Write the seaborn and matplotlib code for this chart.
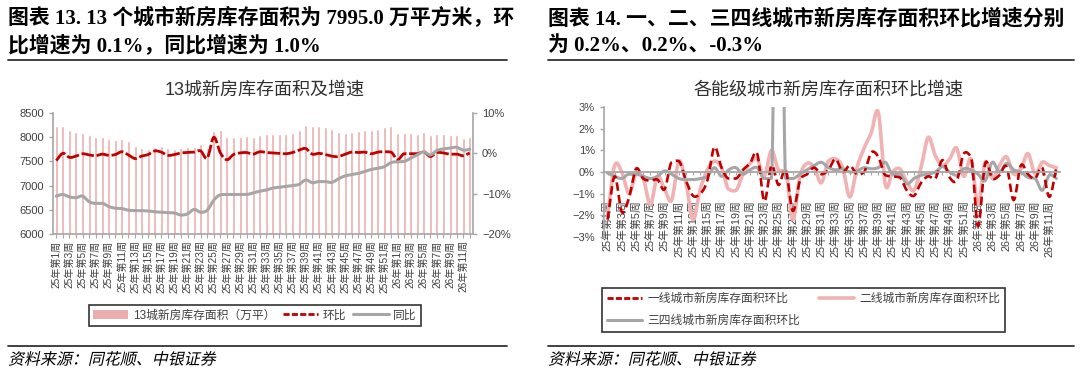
import numpy as np
import pandas as pd
import matplotlib
matplotlib.use("Agg")
import matplotlib.pyplot as plt
import seaborn as sns
from matplotlib.patches import Patch
from matplotlib.lines import Line2D
from matplotlib.patheffects import AbstractPathEffect
from matplotlib.transforms import Affine2D

# ---------------- data ----------------
weeks = [f"25年第{i}周" for i in range(1, 53)] + [f"26年第{i}周" for i in range(1, 13)]

inventory = [8238, 8232, 8155, 8100, 8087, 8052, 8004, 7997, 7955, 7934,
             7969, 7928, 7824, 7777, 7756, 7804, 7824, 7783, 7762, 7770,
             7790, 7804, 7860, 7770, 8134, 8141, 8010, 7997, 8004, 8025,
             8010, 8045, 8066, 8073, 8073, 8066, 8087, 8155, 8258, 8238,
             8238, 8217, 8162, 8100, 8087, 8114, 8128, 8155, 8148, 8169,
             8203, 8224, 8093, 8087, 8080, 8073, 8107, 8045, 8059, 8066,
             8052, 8038, 7987, 7995]

mom_13 = [-1.8, 0.0, -1.0, -0.7, -0.1, -0.4, -0.6, -0.2, -0.5, -0.3,
          0.4, -0.4, -1.3, -0.7, -0.3, 0.6, 0.3, -0.5, -0.3, 0.1,
          0.2, 0.3, 0.6, -1.2, 4.0, 0.1, -1.6, -0.3, 0.1, 0.2,
          -0.2, 0.4, 0.2, 0.1, 0.0, -0.1, 0.2, 0.8, 1.2, -0.2,
          0.0, -0.3, -0.7, -0.8, -0.2, 0.3, 0.2, 0.3, -0.1, 0.3,
          0.4, 0.3, -1.6, -0.1, -0.1, -0.1, 0.4, -0.8, 0.2, 0.1,
          -0.2, -0.2, -0.6, 0.1]

yoy_13 = [-10.6, -10.2, -10.8, -11.0, -10.6, -12.0, -12.4, -12.4, -13.2, -13.6,
          -13.7, -14.1, -14.2, -14.2, -14.3, -14.5, -14.6, -14.7, -14.8, -15.3,
          -15.0, -13.9, -14.6, -14.1, -11.6, -10.3, -10.2, -10.2, -10.2, -10.2,
          -9.8, -9.4, -9.1, -8.6, -8.4, -8.2, -8.0, -7.7, -6.6, -7.3,
          -7.0, -7.0, -7.2, -6.3, -5.6, -5.3, -5.0, -4.5, -4.0, -3.7,
          -3.3, -2.3, -2.1, -2.0, -1.2, -0.4, 0.4, -0.4, 0.7, 1.1,
          1.3, 1.5, 0.8, 1.0]

tier1 = [-2.2, -0.2, -1.85, -1.2, 0.15, -0.3, -0.4, -0.35, -0.8, 0.45,
         0.5, -0.4, -1.1, -1.0, -0.4, 1.15, 0.2, -0.3, -0.3, 0.1,
         0.4, 0.85, -1.35, 0.3, -0.6, 0.1, -1.8, -0.4, -0.1, 0.2,
         -0.1, 0.1, 0.6, 0.0, 0.3, -0.1, 0.0, 0.9, 0.7, -0.15,
         -0.2, -0.25, -0.85, -1.1, -0.5, -0.2, -0.3, 0.55, -0.25, -0.4,
         0.85, 0.7, -2.5, 0.4, -0.3, -0.15, 0.25, -1.3, 0.3, -0.1,
         -0.3, 0.2, -1.15, 0.2]

tier2 = [-2.0, 0.3, 0.0, -1.0, -0.1, -0.3, -1.5, -0.2, -0.8, -1.3,
         0.5, -0.5, -2.2, -0.8, 0.1, 0.5, 0.2, -0.8, -0.85, -0.1,
         0.4, 0.6, -0.2, 1.0, 0.1, 0.0, -2.2, -0.2, 0.4, 0.2,
         -0.5, 0.5, 0.6, 0.2, -1.15, 0.2, 1.1, 1.8, 2.75, -0.6,
         0.0, 0.15, -0.45, -0.85, 0.2, 1.6, 0.75, 0.3, 0.6, 1.1,
         -0.2, 0.6, -1.5, 0.45, -0.3, 0.3, 0.7, -0.1, 0.15, 0.85,
         -0.1, 0.45, 0.3, 0.2]

tier34 = [-0.05, -0.2, -0.3, -0.1, -0.1, -0.2, -0.3, -0.2, 0.05, -0.1,
          -0.3, -0.35, -0.35, -0.3, -0.2, 0.2, -0.2, 0.1, 0.2, -0.1,
          0.1, 0.2, -0.3, -0.3, 25.0, -0.3, -0.3, -0.1, 0.1, 0.3,
          0.45, 0.2, 0.1, 0.15, 0.0, 0.05, 0.2, 0.15, 0.2, 0.45,
          -0.1, -0.1, -0.55, -0.3, -0.15, -0.1, 0.0, 0.25, 0.0, -0.15,
          0.15, 0.1, -0.1, -0.4, 0.45, 0.0, 0.4, 0.1, 0.0, -0.25,
          -0.3, -0.85, -0.15, -0.3]

left_yticks = [6000, 6500, 7000, 7500, 8000, 8500]
right_yticks = [-20, -10, 0, 10]
tier_yticks = [-3, -2, -1, 0, 1, 2, 3]

# ---------------- style ----------------
sns.set_style("white")
plt.rcParams["font.family"] = ["Liberation Sans", "Noto Sans CJK SC"]

BAR = "#EBAEAE"
RED = "#C00000"
GREY = "#A6A6A6"
PINK = "#F0B2B2"
AX = "#A6A6A6"
TXT = "#404040"

W, H = 1080, 374
fig = plt.figure(figsize=(W / 100, H / 100), dpi=100)


def fx(px):
    return px / W


def fy(py):
    return 1 - py / H


def smooth(y, n=12):
    """Excel-like smoothed line with tangents limited to avoid big overshoot."""
    y = np.asarray(y, float)
    N = len(y)
    d = np.diff(y)
    m = np.empty(N)
    m[0], m[-1] = d[0], d[-1]
    m[1:-1] = (d[:-1] + d[1:]) / 2
    for k in range(1, N - 1):
        lim = 3 * min(abs(d[k - 1]), abs(d[k]))
        m[k] = np.sign(m[k]) * min(abs(m[k]), lim)
    t = np.linspace(0, 1, n, endpoint=False)
    h00 = 2 * t**3 - 3 * t**2 + 1
    h10 = t**3 - 2 * t**2 + t
    h01 = -2 * t**3 + 3 * t**2
    h11 = t**3 - t**2
    xs, ys = [], []
    for k in range(N - 1):
        xs.append(k + t)
        ys.append(h00 * y[k] + h10 * m[k] + h01 * y[k + 1] + h11 * m[k + 1])
    xs.append(np.array([N - 1.0]))
    ys.append(np.array([y[-1]]))
    return np.concatenate(xs), np.concatenate(ys)


class Oblique(AbstractPathEffect):
    def __init__(self, shear=0.22):
        super().__init__()
        self.shear = shear

    def draw_path(self, renderer, gc, tpath, affine, rgbFace=None):
        ty = affine.get_matrix()[1, 2]
        sk = Affine2D().translate(0, -ty).skew(self.shear, 0).translate(0, ty)
        renderer.draw_path(gc, tpath, affine + sk, rgbFace)


idx = np.arange(len(weeks))
tick_labels = [w if i % 2 == 0 else "" for i, w in enumerate(weeks)]

# ---------------- left chart ----------------
ax1 = fig.add_axes([fx(53), fy(234), fx(473) - fx(53), fy(113) - fy(234)])
df_bar = pd.DataFrame({"x": idx, "v": inventory})
sns.barplot(data=df_bar, x="x", y="v", color=BAR, saturation=1, width=0.45,
            errorbar=None, ax=ax1, zorder=1)
ax1.set_ylim(6000, 8500)
ax1.set_xlim(-0.5, len(weeks) - 0.5)
ax1.set_yticks(left_yticks)
ax1.set_yticklabels([str(v) for v in left_yticks])
ax1.set_xticks(idx)
ax1.set_xticklabels(tick_labels, rotation=90, fontsize=7.3, color=TXT)
ax1.set_xlabel("")
ax1.set_ylabel("")
ax1.tick_params(axis="y", labelsize=8, colors=AX, labelcolor=TXT, length=3, width=1, direction="out", left=True)
ax1.tick_params(axis="x", colors=AX, labelcolor=TXT, length=3, width=0.8, direction="out", bottom=True, pad=1.5)
for s in ["top", "right"]:
    ax1.spines[s].set_visible(False)
for s in ["left", "bottom"]:
    ax1.spines[s].set_color(AX)
    ax1.spines[s].set_linewidth(1.2)

ax2 = ax1.twinx()
xs, ys = smooth(mom_13)
sns.lineplot(x=xs, y=ys, ax=ax2, color=RED, linewidth=2.0, linestyle=(0, (4.5, 1.0)),
             estimator=None, sort=False, errorbar=None)
xs, ys = smooth(yoy_13)
sns.lineplot(x=xs, y=ys, ax=ax2, color=GREY, linewidth=2.2,
             estimator=None, sort=False, errorbar=None)
ax2.set_ylim(-20, 10)
ax2.set_xlim(-0.5, len(weeks) - 0.5)
ax2.set_yticks(right_yticks)
ax2.set_yticklabels([f"{v}%".replace("-", "\u2212") for v in right_yticks])
ax2.tick_params(axis="y", labelsize=8, colors=AX, labelcolor=TXT, length=3, width=1, direction="out", right=True)
for s in ["top", "left", "bottom"]:
    ax2.spines[s].set_visible(False)
ax2.spines["right"].set_color(AX)
ax2.spines["right"].set_linewidth(1.2)

# ---------------- right chart ----------------
ax3 = fig.add_axes([fx(604), fy(237), fx(1060) - fx(604), fy(107) - fy(237)])
for series, col, lw, ls in [(tier2, PINK, 2.6, "-"),
                            (tier34, GREY, 2.2, "-"),
                            (tier1, RED, 1.9, (0, (3.2, 1.6)))]:
    xs, ys = smooth(series)
    sns.lineplot(x=xs, y=ys, ax=ax3, color=col, linewidth=lw, linestyle=ls,
                 estimator=None, sort=False, errorbar=None)
ax3.set_ylim(-3, 3)
ax3.set_xlim(-0.5, len(weeks) - 0.5)
ax3.spines["bottom"].set_position(("data", 0))
ax3.spines["bottom"].set_color(AX)
ax3.spines["bottom"].set_linewidth(1.3)
ax3.spines["left"].set_color(AX)
ax3.spines["left"].set_linewidth(1.2)
for s in ["top", "right"]:
    ax3.spines[s].set_visible(False)
ax3.set_yticks(tier_yticks)
ax3.set_yticklabels([f"{v}%".replace("-", "\u2212") for v in tier_yticks])
ax3.set_xticks(idx)
ax3.set_xticklabels(tick_labels, rotation=90, fontsize=7.8, color=TXT)
ax3.tick_params(axis="y", labelsize=8, colors=AX, labelcolor=TXT, length=3, width=1, direction="out", left=True)
ax3.tick_params(axis="x", colors=AX, labelcolor=TXT, length=2.5, width=0.8, direction="out", bottom=True, pad=18)
ax3.set_xlabel("")
ax3.set_ylabel("")

# ---------------- chart titles ----------------
fig.text(fx(265), fy(90), "13城新房库存面积及增速", ha="center", va="center",
         fontsize=13, color="#303030")
fig.text(fx(828), fy(90), "各能级城市新房库存面积环比增速", ha="center", va="center",
         fontsize=13, color="#303030")

# ---------------- legends ----------------
h_left = [Patch(facecolor=BAR, edgecolor="none"),
          Line2D([], [], color=RED, lw=2.0, linestyle=(0, (2.2, 0.8))),
          Line2D([], [], color=GREY, lw=2.2)]
leg1 = fig.legend(h_left, ["13城新房库存面积（万平）", "环比", "同比"], loc="center",
                  bbox_to_anchor=(fx(255), fy(315.5)), ncol=3, frameon=True, fancybox=False,
                  edgecolor="black", handlelength=3.0, columnspacing=0.6, handletextpad=0.4,
                  borderpad=0.35, fontsize=8.5)
leg1.get_frame().set_linewidth(1.2)
for t in leg1.get_texts():
    t.set_color(TXT)

h_right = [Line2D([], [], color=RED, lw=2.0, linestyle=(0, (2.2, 0.8))),
           Line2D([], [], color=GREY, lw=2.2),
           Line2D([], [], color=PINK, lw=2.6)]
leg2 = fig.legend(h_right, ["一线城市新房库存面积环比", "三四线城市新房库存面积环比", "二线城市新房库存面积环比"],
                  loc="center", bbox_to_anchor=(fx(803.5), fy(310)), ncol=2, frameon=True,
                  fancybox=False, edgecolor="black", handlelength=3.0, columnspacing=1.6,
                  handletextpad=0.4, borderpad=0.45, labelspacing=0.8, fontsize=8.5)
leg2.get_frame().set_linewidth(1.2)
for t in leg2.get_texts():
    t.set_color(TXT)

# ---------------- headers / footers ----------------
hdr = dict(fontsize=15, fontweight="bold", color="black", va="center", ha="left",
           family=["Liberation Serif", "Noto Sans CJK SC"])
fig.text(fx(8), fy(19), "图表 13. 13 个城市新房库存面积为 7995.0 万平方米，环", **hdr)
fig.text(fx(8), fy(46), "比增速为 0.1%，同比增速为 1.0%", **hdr)
fig.text(fx(548), fy(19), "图表 14. 一、二、三四线城市新房库存面积环比增速分别", **hdr)
fig.text(fx(548), fy(46), "为 0.2%、0.2%、-0.3%", **hdr)

for x0, x1 in [(8, 507), (548, 1074)]:
    fig.add_artist(Line2D([fx(x0), fx(x1)], [fy(60), fy(60)], color="#333333", lw=1.3))
    fig.add_artist(Line2D([fx(x0), fx(x1)], [fy(346), fy(346)], color="#333333", lw=1.3))

for x0 in [8, 548]:
    t = fig.text(fx(x0), fy(360), "资料来源：同花顺、中银证券", fontsize=11.5, color="black",
                 va="center", ha="left", family=["Noto Sans CJK SC"])
    t.set_path_effects([Oblique(0.22)])

fig.savefig("out.png", dpi=100)
